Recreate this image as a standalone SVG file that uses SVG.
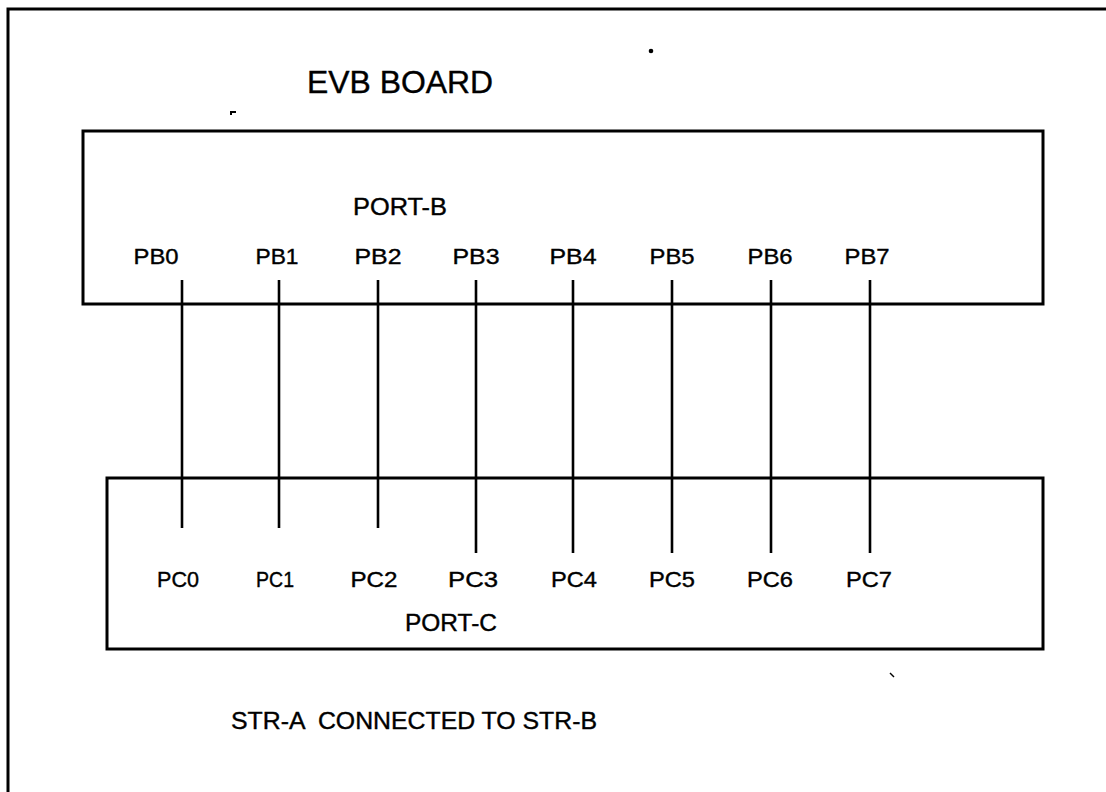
<svg xmlns="http://www.w3.org/2000/svg" width="1106" height="792" viewBox="0 0 1106 792">
<style>
.frame{fill:none;stroke:#000;stroke-width:3}
.box{fill:none;stroke:#000;stroke-width:3}
.wire{stroke:#000;stroke-width:2.6;fill:none}
text{font-family:"Liberation Sans",Arial,sans-serif;fill:#000;stroke:#000;stroke-width:0.4}
.lbl{font-size:22.5px;text-anchor:middle}
.port{font-size:24px}
.title{font-size:32px}
.note{font-size:24px}
</style>
<rect width="1106" height="792" fill="#fff"/>
<path class="frame" d="M8,792 V9 H1106"/>
<text class="title" x="307" y="93" textLength="186" lengthAdjust="spacingAndGlyphs">EVB BOARD</text>
<circle cx="651" cy="51" r="2.3" fill="#000"/>
<path d="M231,115 V112 H236" stroke="#000" stroke-width="2" fill="none"/>
<path d="M890,673 L894,677" stroke="#000" stroke-width="1.5"/>
<g id="port-b">
<rect class="box" x="83" y="131" width="960" height="173"/>
<text class="port" x="353" y="215" textLength="94" lengthAdjust="spacingAndGlyphs">PORT-B</text>
<text class="lbl" x="156" y="264" textLength="45" lengthAdjust="spacingAndGlyphs">PB0</text>
<text class="lbl" x="277" y="264" textLength="43" lengthAdjust="spacingAndGlyphs">PB1</text>
<text class="lbl" x="378" y="264" textLength="47" lengthAdjust="spacingAndGlyphs">PB2</text>
<text class="lbl" x="476" y="264" textLength="47" lengthAdjust="spacingAndGlyphs">PB3</text>
<text class="lbl" x="573" y="264" textLength="47" lengthAdjust="spacingAndGlyphs">PB4</text>
<text class="lbl" x="672" y="264" textLength="45" lengthAdjust="spacingAndGlyphs">PB5</text>
<text class="lbl" x="770" y="264" textLength="45" lengthAdjust="spacingAndGlyphs">PB6</text>
<text class="lbl" x="867" y="264" textLength="45" lengthAdjust="spacingAndGlyphs">PB7</text>
</g>
<g id="port-c">
<rect class="box" x="107" y="478" width="936" height="171"/>
<text class="lbl" x="178" y="587" textLength="42" lengthAdjust="spacingAndGlyphs">PC0</text>
<text class="lbl" x="275" y="587" textLength="38" lengthAdjust="spacingAndGlyphs">PC1</text>
<text class="lbl" x="374" y="587" textLength="47" lengthAdjust="spacingAndGlyphs">PC2</text>
<text class="lbl" x="473" y="587" textLength="50" lengthAdjust="spacingAndGlyphs">PC3</text>
<text class="lbl" x="574" y="587" textLength="46" lengthAdjust="spacingAndGlyphs">PC4</text>
<text class="lbl" x="672" y="587" textLength="46" lengthAdjust="spacingAndGlyphs">PC5</text>
<text class="lbl" x="770" y="587" textLength="46" lengthAdjust="spacingAndGlyphs">PC6</text>
<text class="lbl" x="869" y="587" textLength="46" lengthAdjust="spacingAndGlyphs">PC7</text>
<text class="port" x="405" y="631" textLength="92" lengthAdjust="spacingAndGlyphs">PORT-C</text>
</g>
<g id="connectors">
<line class="wire" x1="182" y1="280" x2="182" y2="528"/>
<line class="wire" x1="279" y1="280" x2="279" y2="528"/>
<line class="wire" x1="378" y1="280" x2="378" y2="528"/>
<line class="wire" x1="476" y1="280" x2="476" y2="553"/>
<line class="wire" x1="573" y1="280" x2="573" y2="553"/>
<line class="wire" x1="672" y1="280" x2="672" y2="553"/>
<line class="wire" x1="771" y1="280" x2="771" y2="553"/>
<line class="wire" x1="870" y1="280" x2="870" y2="553"/>
</g>
<text class="note" x="231" y="729" textLength="366" lengthAdjust="spacingAndGlyphs" xml:space="preserve" style="white-space:pre">STR-A  CONNECTED TO STR-B</text>
</svg>
